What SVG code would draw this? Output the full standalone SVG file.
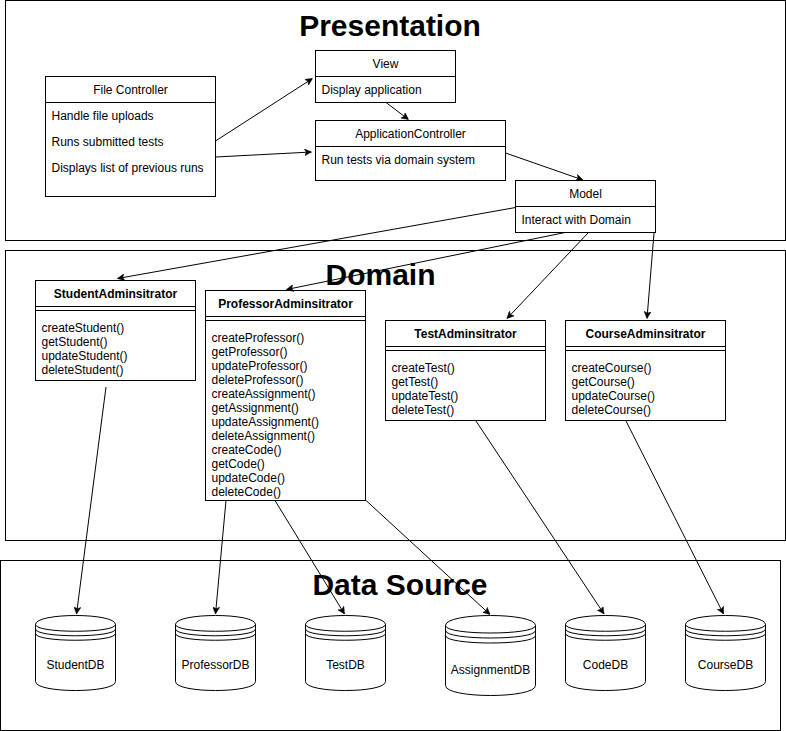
<svg xmlns="http://www.w3.org/2000/svg" width="786" height="731" viewBox="0 0 786 731">
<defs>
<style>
.box{fill:#fff;stroke:#000;stroke-width:1}
.frame{fill:none;stroke:#000;stroke-width:1}
.ln{fill:none;stroke:#000;stroke-width:1}
.t{font-family:"Liberation Sans",Arial,Helvetica,sans-serif;font-size:12px;fill:#000}
.c{text-anchor:middle}
.b{font-weight:bold}
.title{font-family:"Liberation Sans",Arial,Helvetica,sans-serif;font-size:30px;font-weight:bold;fill:#000;text-anchor:middle}
.edge{fill:none;stroke:#000;stroke-width:1;marker-end:url(#arr)}
</style>
<marker id="arr" markerUnits="userSpaceOnUse" viewBox="0 0 7 7" refX="7" refY="3.5" markerWidth="7" markerHeight="7" orient="auto">
<path d="M7,3.5 L0,0 L1.75,3.5 L0,7 Z" fill="#000" stroke="#000" stroke-width="0.5"/>
</marker>
</defs>
<rect width="786" height="731" fill="#fff"/>

<g id="presentation-layer">
<rect class="frame" x="5.5" y="0.5" width="780" height="240"/>
<text class="title" x="390" y="36">Presentation</text>
</g>
<g id="domain-layer">
<rect class="frame" x="5.5" y="250.5" width="780" height="290"/>
<text class="title" x="380.5" y="285">Domain</text>
</g>
<g id="datasource-layer">
<rect class="frame" x="0.5" y="560.5" width="780" height="170"/>
<text class="title" x="400" y="595">Data Source</text>
</g>

<g id="file-controller">
<rect class="box" x="45.5" y="76.5" width="170" height="120"/>
<line class="ln" x1="45.5" y1="102.5" x2="215.5" y2="102.5"/>
<text class="t c" x="130.5" y="93.5">File Controller</text>
<text class="t" x="51.5" y="119.5">Handle file uploads</text>
<text class="t" x="51.5" y="145.5">Runs submitted tests</text>
<text class="t" x="51.5" y="171.5">Displays list of previous runs</text>
</g>
<g id="view">
<rect class="box" x="315.5" y="50.5" width="140" height="52"/>
<line class="ln" x1="315.5" y1="76.5" x2="455.5" y2="76.5"/>
<text class="t c" x="385.5" y="67.5">View</text>
<text class="t" x="321.5" y="93.5">Display application</text>
</g>
<g id="application-controller">
<rect class="box" x="315.5" y="120.5" width="190" height="60"/>
<line class="ln" x1="315.5" y1="146.5" x2="505.5" y2="146.5"/>
<text class="t c" x="410.5" y="137.5">ApplicationController</text>
<text class="t" x="321.5" y="163.5">Run tests via domain system</text>
</g>
<g id="model">
<rect class="box" x="515.5" y="180.5" width="140" height="52"/>
<line class="ln" x1="515.5" y1="206.5" x2="655.5" y2="206.5"/>
<text class="t c" x="585.5" y="197.5">Model</text>
<text class="t" x="521.5" y="223.5">Interact with Domain</text>
</g>

<g id="student-adminsitrator">
<rect class="box" x="35.5" y="280.5" width="160" height="100"/>
<line class="ln" x1="35.5" y1="306.5" x2="195.5" y2="306.5"/>
<line class="ln" x1="35.5" y1="310.5" x2="195.5" y2="310.5"/>
<text class="t c b" x="115.5" y="297.5">StudentAdminsitrator</text>
<text class="t" x="41.5" y="331.5">createStudent()</text>
<text class="t" x="41.5" y="345.5">getStudent()</text>
<text class="t" x="41.5" y="359.5">updateStudent()</text>
<text class="t" x="41.5" y="373.5">deleteStudent()</text>
</g>
<g id="professor-adminsitrator">
<rect class="box" x="205.5" y="290.5" width="160" height="210"/>
<line class="ln" x1="205.5" y1="316.5" x2="365.5" y2="316.5"/>
<line class="ln" x1="205.5" y1="320.5" x2="365.5" y2="320.5"/>
<text class="t c b" x="285.5" y="307.5">ProfessorAdminsitrator</text>
<text class="t" x="211.5" y="342">createProfessor()</text>
<text class="t" x="211.5" y="356">getProfessor()</text>
<text class="t" x="211.5" y="370">updateProfessor()</text>
<text class="t" x="211.5" y="384">deleteProfessor()</text>
<text class="t" x="211.5" y="398">createAssignment()</text>
<text class="t" x="211.5" y="412">getAssignment()</text>
<text class="t" x="211.5" y="426">updateAssignment()</text>
<text class="t" x="211.5" y="440">deleteAssignment()</text>
<text class="t" x="211.5" y="454">createCode()</text>
<text class="t" x="211.5" y="468">getCode()</text>
<text class="t" x="211.5" y="482">updateCode()</text>
<text class="t" x="211.5" y="496">deleteCode()</text>
</g>
<g id="test-adminsitrator">
<rect class="box" x="385.5" y="320.5" width="160" height="100"/>
<line class="ln" x1="385.5" y1="346.5" x2="545.5" y2="346.5"/>
<line class="ln" x1="385.5" y1="350.5" x2="545.5" y2="350.5"/>
<text class="t c b" x="465.5" y="337.5">TestAdminsitrator</text>
<text class="t" x="391.5" y="371.5">createTest()</text>
<text class="t" x="391.5" y="385.5">getTest()</text>
<text class="t" x="391.5" y="399.5">updateTest()</text>
<text class="t" x="391.5" y="413.5">deleteTest()</text>
</g>
<g id="course-adminsitrator">
<rect class="box" x="565.5" y="320.5" width="160" height="100"/>
<line class="ln" x1="565.5" y1="346.5" x2="725.5" y2="346.5"/>
<line class="ln" x1="565.5" y1="350.5" x2="725.5" y2="350.5"/>
<text class="t c b" x="645.5" y="337.5">CourseAdminsitrator</text>
<text class="t" x="571.5" y="371.5">createCourse()</text>
<text class="t" x="571.5" y="385.5">getCourse()</text>
<text class="t" x="571.5" y="399.5">updateCourse()</text>
<text class="t" x="571.5" y="413.5">deleteCourse()</text>
</g>

<g id="student-db" transform="translate(35.5,615.5)">
<path class="box" d="M0,9 C0,-3 80,-3 80,9 L80,66 C80,78 0,78 0,66 Z"/>
<path class="ln" d="M0,9 C0,18 80,18 80,9 M0,13.5 C0,22.5 80,22.5 80,13.5 M0,18 C0,27 80,27 80,18"/>
<text class="t c" x="40" y="53.5">StudentDB</text>
</g>
<g id="professor-db" transform="translate(175.5,615.5)">
<path class="box" d="M0,9 C0,-3 80,-3 80,9 L80,66 C80,78 0,78 0,66 Z"/>
<path class="ln" d="M0,9 C0,18 80,18 80,9 M0,13.5 C0,22.5 80,22.5 80,13.5 M0,18 C0,27 80,27 80,18"/>
<text class="t c" x="40" y="53.5">ProfessorDB</text>
</g>
<g id="test-db" transform="translate(305.5,615.5)">
<path class="box" d="M0,9 C0,-3 80,-3 80,9 L80,66 C80,78 0,78 0,66 Z"/>
<path class="ln" d="M0,9 C0,18 80,18 80,9 M0,13.5 C0,22.5 80,22.5 80,13.5 M0,18 C0,27 80,27 80,18"/>
<text class="t c" x="40" y="53.5">TestDB</text>
</g>
<g id="assignment-db" transform="translate(445.5,615.5)">
<path class="box" d="M0,10 C0,-3.33 90,-3.33 90,10 L90,70 C90,83.33 0,83.33 0,70 Z"/>
<path class="ln" d="M0,10 C0,20 90,20 90,10 M0,15 C0,25 90,25 90,15 M0,20 C0,30 90,30 90,20"/>
<text class="t c" x="45" y="58.5">AssignmentDB</text>
</g>
<g id="code-db" transform="translate(565.5,615.5)">
<path class="box" d="M0,9 C0,-3 80,-3 80,9 L80,66 C80,78 0,78 0,66 Z"/>
<path class="ln" d="M0,9 C0,18 80,18 80,9 M0,13.5 C0,22.5 80,22.5 80,13.5 M0,18 C0,27 80,27 80,18"/>
<text class="t c" x="40" y="53.5">CodeDB</text>
</g>
<g id="course-db" transform="translate(685.5,615.5)">
<path class="box" d="M0,9 C0,-3 80,-3 80,9 L80,66 C80,78 0,78 0,66 Z"/>
<path class="ln" d="M0,9 C0,18 80,18 80,9 M0,13.5 C0,22.5 80,22.5 80,13.5 M0,18 C0,27 80,27 80,18"/>
<text class="t c" x="40" y="53.5">CourseDB</text>
</g>

<g id="connectors">
<path class="edge" d="M215.5,141 L312.5,78.5"/>
<path class="edge" d="M215.5,157 L311.5,152"/>
<path class="edge" d="M386,102.5 L408.5,119.5"/>
<path class="edge" d="M505.5,153 L583,180"/>
<path class="edge" d="M515.5,207.5 L117.5,278.5"/>
<path class="edge" d="M565,232.5 L286.5,289.5"/>
<path class="edge" d="M588,233 L507,318.5"/>
<path class="edge" d="M654,233 L647,318.5"/>
<path class="edge" d="M106,387 L76.5,614"/>
<path class="edge" d="M226,500.5 L215.5,614"/>
<path class="edge" d="M275,500.5 L344.5,614"/>
<path class="edge" d="M365.5,500 L490,614.5"/>
<path class="edge" d="M476,421 L604,614"/>
<path class="edge" d="M626,421 L723.5,614"/>
</g>
</svg>
